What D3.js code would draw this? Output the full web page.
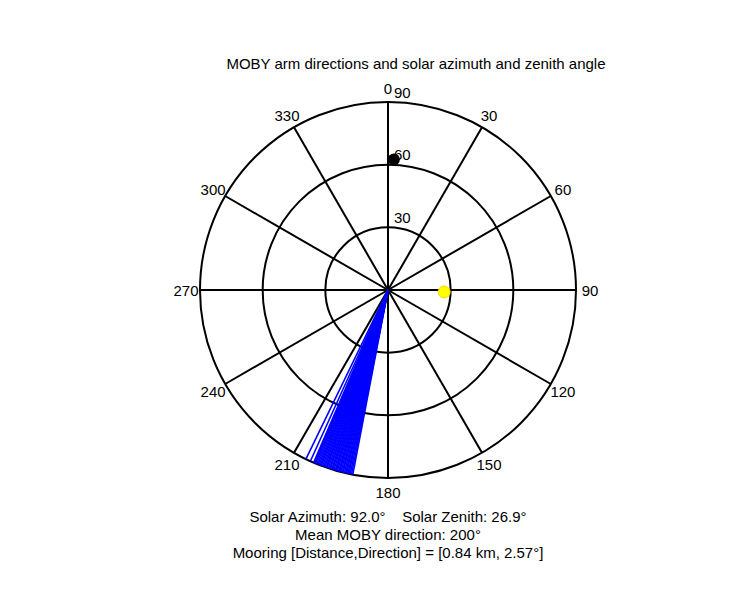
<!DOCTYPE html>
<html><head><meta charset="utf-8">
<script src="https://cdn.jsdelivr.net/npm/d3@7"></script>
<style>body{margin:0;background:#fff}text{font-family:Arial,"Liberation Sans",sans-serif;font-size:15px;white-space:pre}</style>
</head><body><svg id="c" width="750" height="600"></svg>
<script>
const title = "MOBY arm directions and solar azimuth and zenith angle";
const azimuthTicks = [0,30,60,90,120,150,180,210,240,270,300,330];
const zenithTicks = [30,60,90];
const armDirections = [190.8,191.2,191.6,192.0,192.3,192.7,193.0,193.4,193.8,194.1,194.5,194.9,195.2,195.6,196.0,196.3,196.7,197.1,197.4,197.8,198.1,198.5,198.9,199.2,199.6,200.0,200.4,200.8,201.1,201.5,201.9,202.3,202.7,203.0,203.3,204.4,205.9];
const sun = {azimuth:92.0, zenith:26.9};
const mooring = {azimuth:2.57, zenith:62.5};
const footer = ["Solar Azimuth: 92.0\u00b0    Solar Zenith: 26.9\u00b0","Mean MOBY direction: 200\u00b0","Mooring [Distance,Direction] = [0.84 km, 2.57\u00b0]"];

const svg = d3.select("#c");
const cx=388, cy=290, R=188;
const r = d3.scaleLinear().domain([0,90]).range([0,R]);
const pt = (az,z)=>{const a=az*Math.PI/180;return [cx+r(z)*Math.sin(a), cy-r(z)*Math.cos(a)];};
const g = svg.append("g");
zenithTicks.forEach(z=>g.append("circle").attr("cx",cx).attr("cy",cy).attr("r",r(z)).attr("fill","none").attr("stroke","#000").attr("stroke-width",2));
azimuthTicks.forEach(a=>{const p=pt(a,90);g.append("line").attr("x1",cx).attr("y1",cy).attr("x2",p[0]).attr("y2",p[1]).attr("stroke","#000").attr("stroke-width",2);});
azimuthTicks.forEach(a=>{const a2=a*Math.PI/180,rr=R+14;g.append("text").attr("x",cx+rr*Math.sin(a2)).attr("y",cy-rr*Math.cos(a2)).attr("text-anchor","middle").attr("dominant-baseline","central").text(a);});
zenithTicks.forEach(z=>g.append("text").attr("x",cx+6).attr("y",cy-r(z)-10).attr("dominant-baseline","central").text(z));
armDirections.forEach(a=>{const p=pt(a,90);g.append("line").attr("x1",cx).attr("y1",cy).attr("x2",p[0]).attr("y2",p[1]).attr("stroke","#0000ff").attr("stroke-width",1.6);});
const s=pt(sun.azimuth,sun.zenith);
g.append("circle").attr("cx",s[0]).attr("cy",s[1]).attr("r",6).attr("fill","#ffff00").attr("stroke","#ffd700");
const m=pt(mooring.azimuth,mooring.zenith);
g.append("circle").attr("cx",m[0]).attr("cy",m[1]).attr("r",6).attr("fill","#000");
svg.append("text").attr("x",416).attr("y",69).attr("text-anchor","middle").text(title);
footer.forEach((t,i)=>svg.append("text").attr("x",388).attr("y",522+i*18).attr("text-anchor","middle").text(t));
</script></body></html>
